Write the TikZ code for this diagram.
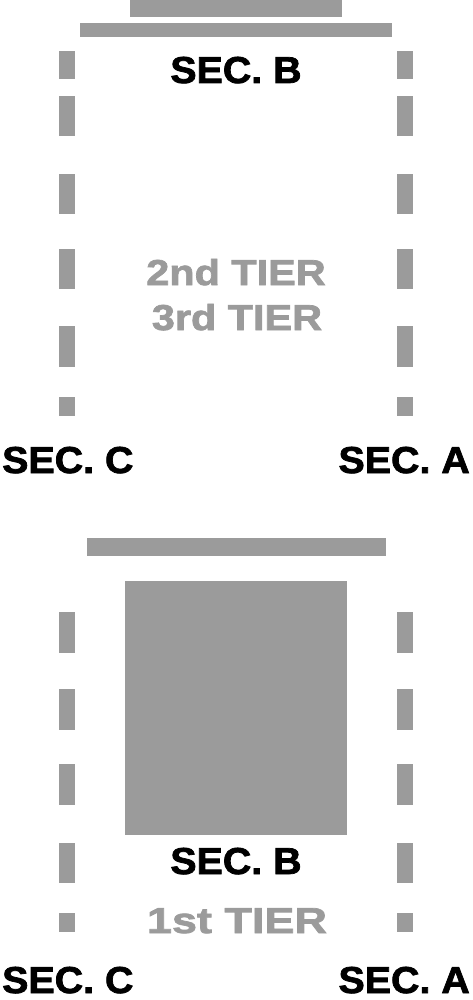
\documentclass[tikz,border=0pt]{standalone}
\usepackage{fontspec}
\setmainfont{Liberation Sans}
% heavy, slightly wide lettering of the plan
\newfontfamily\secfont{Liberation Sans}[UprightFont=* Bold, FakeBold=2, FakeStretch=1.05]
\newfontfamily\tierfont{Liberation Sans}[UprightFont=* Bold, FakeBold=2, FakeStretch=1.15]
\newfontfamily\tierwidefont{Liberation Sans}[UprightFont=* Bold, FakeBold=2, FakeStretch=1.25]
\definecolor{seatgray}{RGB}{155,155,155}
\tikzset{
  seat/.style={fill=seatgray, draw=none},
  seclabel/.style={inner sep=0pt, text depth=0pt, font=\secfont\fontsize{37.5}{40}\selectfont},
  tierlabel/.style={inner sep=0pt, text depth=0pt, text=seatgray, font=\tierfont\fontsize{36}{40}\selectfont}
}
\begin{document}
\begin{tikzpicture}[x=1pt, y=-1pt]
    % one unit = one pixel of the 472 x 1000 plan
    \useasboundingbox (0, 0) rectangle (472, 1000);

    % upper plan: 2nd and 3rd tier
    \fill[seat] (130, 0) rectangle (342, 17);
    \fill[seat] (80, 23) rectangle (392, 37);

    % side rows, left x = 59..75, right x = 397..413
    \fill[seat] (59, 51) rectangle (75, 79);
    \fill[seat] (59, 96) rectangle (75, 136);
    \fill[seat] (59, 174) rectangle (75, 214);
    \fill[seat] (59, 249) rectangle (75, 289);
    \fill[seat] (59, 326) rectangle (75, 367);
    \fill[seat] (59, 397) rectangle (75, 416);

    \fill[seat] (397, 51) rectangle (413, 79);
    \fill[seat] (397, 96) rectangle (413, 136);
    \fill[seat] (397, 174) rectangle (413, 214);
    \fill[seat] (397, 249) rectangle (413, 289);
    \fill[seat] (397, 326) rectangle (413, 367);
    \fill[seat] (397, 397) rectangle (413, 416);

    \node[seclabel, anchor=base] (secBup) at (236, 83) {SEC. B};
    \node[tierlabel, anchor=base] (tierTwo) at (236, 285) {2nd TIER};
    \node[tierlabel, anchor=base] (tierThree) at (237, 330) {3rd TIER};
    \node[seclabel, anchor=base west] (secCup) at (2, 473) {SEC. C};
    \node[seclabel, anchor=base east] (secAup) at (470, 473) {SEC. A};

    % lower plan: 1st tier
    \fill[seat] (87, 538) rectangle (386, 556);
    \fill[seat] (125, 581) rectangle (347, 835);

    \fill[seat] (59, 612) rectangle (75, 653);
    \fill[seat] (59, 689) rectangle (75, 730);
    \fill[seat] (59, 764) rectangle (75, 805);
    \fill[seat] (59, 843) rectangle (75, 883);
    \fill[seat] (59, 913) rectangle (75, 932);

    \fill[seat] (397, 612) rectangle (413, 653);
    \fill[seat] (397, 689) rectangle (413, 730);
    \fill[seat] (397, 764) rectangle (413, 805);
    \fill[seat] (397, 843) rectangle (413, 883);
    \fill[seat] (397, 913) rectangle (413, 932);

    \node[seclabel, anchor=base] (secBlow) at (236, 874) {SEC. B};
    \node[tierlabel, anchor=base, font=\tierwidefont\fontsize{36}{40}\selectfont] (tierOne) at (237, 933) {1st TIER};
    \node[seclabel, anchor=base west] (secClow) at (2, 993) {SEC. C};
    \node[seclabel, anchor=base east] (secAlow) at (470, 993) {SEC. A};
\end{tikzpicture}
\end{document}
